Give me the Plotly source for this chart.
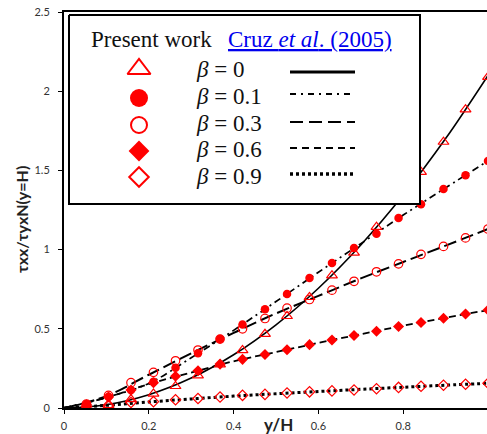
import plotly.graph_objects as go

# ---------------- data ----------------
x_pts = [0.053, 0.105, 0.158, 0.211, 0.263, 0.316, 0.368, 0.421, 0.474, 0.526,
         0.579, 0.632, 0.684, 0.737, 0.789, 0.842, 0.895, 0.947, 1.0]
b00_pts = [0.006, 0.018, 0.055, 0.09, 0.138, 0.205, 0.275, 0.365, 0.467, 0.58,
           0.70, 0.837, 0.98, 1.143, 1.31, 1.49, 1.68, 1.885, 2.09]
b01_pts = [0.023, 0.071, 0.113, 0.166, 0.254, 0.345, 0.435, 0.527, 0.624, 0.72,
           0.82, 0.915, 1.01, 1.10, 1.20, 1.286, 1.383, 1.47, 1.56]
b03_pts = [0.025, 0.08, 0.16, 0.225, 0.298, 0.366, 0.435, 0.50, 0.565, 0.63,
           0.685, 0.744, 0.80, 0.86, 0.91, 0.97, 1.02, 1.074, 1.13]
b06_pts = [0.021, 0.07, 0.113, 0.16, 0.20, 0.235, 0.277, 0.307, 0.338, 0.368,
           0.40, 0.429, 0.458, 0.485, 0.515, 0.54, 0.567, 0.593, 0.618]
b09_pts = [0.01, 0.018, 0.035, 0.04, 0.052, 0.06, 0.069, 0.08, 0.086, 0.095,
           0.102, 0.108, 0.114, 0.122, 0.13, 0.137, 0.144, 0.15, 0.156]

x_line = [0.0, 0.1, 0.2, 0.3, 0.4, 0.5, 0.6, 0.7, 0.8, 0.9, 1.0]
b00_line = [0.0, 0.021, 0.084, 0.189, 0.336, 0.525, 0.756, 1.029, 1.344, 1.701, 2.1]
b01_line = [0.0, 0.067, 0.155, 0.317, 0.49, 0.672, 0.857, 1.037, 1.218, 1.39, 1.56]
b03_line = [0.0, 0.075, 0.21, 0.345, 0.474, 0.597, 0.708, 0.818, 0.922, 1.025, 1.13]
b06_line = [0.0, 0.065, 0.151, 0.224, 0.295, 0.353, 0.411, 0.466, 0.52, 0.57, 0.618]
b09_line = [0.0, 0.017, 0.038, 0.057, 0.075, 0.09, 0.104, 0.118, 0.131, 0.144, 0.156]

beta_labels = ["0", "0.1", "0.3", "0.6", "0.9"]
x_ticks = [0, 0.2, 0.4, 0.6, 0.8, 1]
y_ticks = [0, 0.5, 1, 1.5, 2, 2.5]
y_tick_text = ["0", "0.5", "1", "1.5", "2", "2.5"]

# ---------------- styles ----------------
RED = "#FF0000"
marker_styles = [
    dict(symbol="triangle-up-open", size=9.5, color=RED, line=dict(color=RED, width=1.2)),
    dict(symbol="circle", size=8.5, color=RED, line=dict(color=RED, width=0)),
    dict(symbol="circle-open", size=8.5, color=RED, line=dict(color=RED, width=1.2)),
    dict(symbol="diamond", size=8.5, color=RED, line=dict(color=RED, width=0)),
    dict(symbol="diamond-open", size=8, color=RED, line=dict(color=RED, width=1.2)),
]
legend_marker_styles = [
    dict(symbol="triangle-up-open", size=20, color=RED, line=dict(color=RED, width=2)),
    dict(symbol="circle", size=18, color=RED, line=dict(color=RED, width=0)),
    dict(symbol="circle-open", size=16, color=RED, line=dict(color=RED, width=2)),
    dict(symbol="diamond", size=16, color=RED, line=dict(color=RED, width=0)),
    dict(symbol="diamond-open", size=15, color=RED, line=dict(color=RED, width=2)),
]
line_styles = [
    dict(color="black", width=1.6, dash="solid"),
    dict(color="black", width=1.7, dash="7px,4px,2px,4px"),
    dict(color="black", width=2, dash="13px,5px"),
    dict(color="black", width=1.8, dash="7px,4px"),
    dict(color="black", width=3, dash="3px,3px"),
]
legend_line_styles = [
    dict(color="black", width=3, dash="solid"),
    dict(color="black", width=1.8, dash="6px,5px,2px,5px"),
    dict(color="black", width=2.2, dash="13px,6px"),
    dict(color="black", width=1.8, dash="7px,5px"),
    dict(color="black", width=3.5, dash="3px,3px"),
]

series_pts = [b00_pts, b01_pts, b03_pts, b06_pts, b09_pts]
series_line = [b00_line, b01_line, b03_line, b06_line, b09_line]

fig = go.Figure()

# curves (Cruz et al.)
for ys, ls in zip(series_line, line_styles):
    fig.add_trace(go.Scatter(x=x_line, y=ys, mode="lines", line=dict(shape="spline", **ls),
                             showlegend=False, hoverinfo="skip"))
# markers (present work)
for ys, ms in zip(series_pts, marker_styles):
    fig.add_trace(go.Scatter(x=x_pts, y=ys, mode="markers", marker=ms,
                             showlegend=False, hoverinfo="skip"))

# ---------------- hand-made legend on a pixel-space overlay ----------------
box_x = [69, 420, 420, 69, 69]
box_y = [15, 15, 204, 204, 15]
fig.add_trace(go.Scatter(x=box_x, y=box_y, xaxis="x2", yaxis="y2", mode="lines",
                         fill="toself", fillcolor="white",
                         line=dict(color="black", width=2),
                         showlegend=False, hoverinfo="skip"))

row_marker_y = [69, 98, 125, 151, 177]
row_line_y = [72, 94, 122, 148, 174]
row_text_y = [69, 96, 123, 149, 176]
for i, lab in enumerate(beta_labels):
    fig.add_trace(go.Scatter(x=[139], y=[row_marker_y[i]], xaxis="x2", yaxis="y2",
                             mode="markers", marker=legend_marker_styles[i],
                             showlegend=False, hoverinfo="skip"))
    fig.add_trace(go.Scatter(x=[290, 355], y=[row_line_y[i], row_line_y[i]],
                             xaxis="x2", yaxis="y2", mode="lines",
                             line=legend_line_styles[i],
                             showlegend=False, hoverinfo="skip"))
    fig.add_annotation(x=194, y=row_text_y[i], xref="x2", yref="y2",
                       text="<i>β</i> = " + lab, showarrow=False,
                       xanchor="left", yanchor="middle",
                       font=dict(family="Liberation Serif", size=23, color="#111"))

fig.add_annotation(x=89, y=39, xref="x2", yref="y2", text="Present work",
                   showarrow=False, xanchor="left", yanchor="middle",
                   font=dict(family="Liberation Serif", size=23, color="#111"))
fig.add_annotation(x=226, y=39, xref="x2", yref="y2",
                   text="<u>Cruz <i>et al</i>. (2005)</u>",
                   showarrow=False, xanchor="left", yanchor="middle",
                   font=dict(family="Liberation Serif", size=23, color="#0000EE"))

# axis titles (paper coordinates: plot area spans px 64..487, 12..408)
fig.add_annotation(x=(278 - 64) / 423, y=(408 - 425) / 396, xref="paper", yref="paper",
                   text="<b>y/H</b>", showarrow=False, xanchor="center", yanchor="middle",
                   font=dict(family="Lato", size=17, color="#222"))
fig.add_annotation(x=(21 - 64) / 423, y=(408 - 220) / 396, xref="paper", yref="paper",
                   text="<b>τxx/τyxN(y=H)</b>", showarrow=False, textangle=-90,
                   xanchor="center", yanchor="middle",
                   font=dict(family="Lato", size=16, color="#222"))

fig.update_layout(
    width=487, height=434,
    margin=dict(l=64, r=0, t=12, b=26),
    paper_bgcolor="white", plot_bgcolor="white",
    showlegend=False,
    xaxis=dict(range=[0, 0.9976], tickvals=x_ticks, ticktext=[str(v) for v in x_ticks],
               showgrid=False, zeroline=False, showline=True, linecolor="black",
               linewidth=2, mirror=True, ticks="outside", ticklen=4, tickcolor="black",
               tickfont=dict(family="Lato", size=11, color="#333"),
               ticklabelstandoff=3, ticklabeloverflow="allow"),
    yaxis=dict(range=[0, 2.5], tickvals=y_ticks, ticktext=y_tick_text,
               showgrid=False, zeroline=False, showline=True, linecolor="black",
               linewidth=2, ticks="outside", ticklen=4, tickcolor="black",
               tickfont=dict(family="Lato", size=11, color="#333"),
               ticklabelstandoff=6, ticklabeloverflow="allow"),
    xaxis2=dict(overlaying="x", range=[64, 487], visible=False, fixedrange=True),
    yaxis2=dict(overlaying="y", range=[408, 12], visible=False, fixedrange=True),
)

# remove the default 8px page margin so the figure fills the window exactly
fig.write_html(
    "out.html",
    config={"displayModeBar": False, "staticPlot": True},
    post_script="document.body.style.margin='0';"
                "document.body.style.overflow='hidden';"
                "document.documentElement.style.overflow='hidden';",
)
